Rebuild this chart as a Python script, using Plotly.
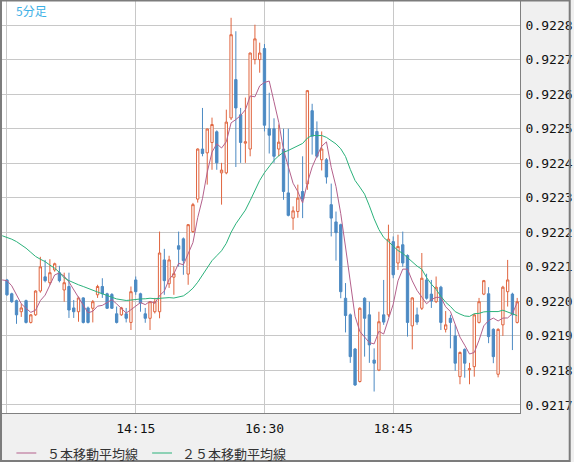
import plotly.graph_objects as go

# ---- data (USD/CHF-like 5-minute bars) ----
open_ = [0.922062, 0.922022, 0.922002, 0.921970, 0.922002, 0.921939, 0.921961, 0.922030, 0.922071, 0.922054,
         0.922091, 0.922083, 0.922033, 0.922043, 0.921981, 0.921970, 0.922010, 0.921981, 0.921980, 0.922019,
         0.922043, 0.922022, 0.922020, 0.921964, 0.921961, 0.921964, 0.921939, 0.922062, 0.922022, 0.921964,
         0.921951, 0.921970, 0.921970, 0.922120, 0.922051, 0.922070, 0.922161, 0.922181, 0.922079, 0.922202,
         0.922296, 0.922441, 0.922430, 0.922460, 0.922491, 0.922372, 0.922372, 0.922531, 0.922642, 0.922540,
         0.922458, 0.922441, 0.922700, 0.922700, 0.922732, 0.922500, 0.922500, 0.922441, 0.922441, 0.922314,
         0.922241, 0.922260, 0.922318, 0.922340, 0.922552, 0.922492, 0.922410, 0.922410, 0.922280, 0.922230,
         0.922222, 0.922009, 0.921961, 0.921862, 0.921768, 0.922009, 0.921961, 0.921830, 0.921801, 0.921961,
         0.921961, 0.922173, 0.922111, 0.922164, 0.922133, 0.921929, 0.921961, 0.921980, 0.922062, 0.922021,
         0.921999, 0.922041, 0.921919, 0.921951, 0.921900, 0.921782, 0.921861, 0.921802, 0.921811, 0.921939,
         0.922021, 0.922022, 0.921919, 0.921789, 0.921932, 0.922028, 0.922021, 0.921939]
high = [0.922065, 0.922025, 0.922005, 0.921993, 0.922005, 0.921963, 0.922032, 0.922129, 0.922120, 0.922122,
        0.922112, 0.922103, 0.922083, 0.922083, 0.922004, 0.922014, 0.922012, 0.921985, 0.922004, 0.922048,
        0.922067, 0.922025, 0.922024, 0.921985, 0.921984, 0.921981, 0.922043, 0.922072, 0.922025, 0.921981,
        0.922000, 0.922010, 0.922202, 0.922152, 0.922132, 0.922101, 0.922202, 0.922185, 0.922224, 0.922285,
        0.922443, 0.922560, 0.922500, 0.922532, 0.922495, 0.922401, 0.922555, 0.922821, 0.922782, 0.922560,
        0.922590, 0.922720, 0.922801, 0.922749, 0.922745, 0.922604, 0.922530, 0.922512, 0.922500, 0.922500,
        0.922275, 0.922338, 0.922420, 0.922612, 0.922572, 0.922521, 0.922492, 0.922415, 0.922341, 0.922260,
        0.922225, 0.922053, 0.921965, 0.921865, 0.921983, 0.922012, 0.921999, 0.921864, 0.921970, 0.922062,
        0.922222, 0.922188, 0.922193, 0.922202, 0.922136, 0.922012, 0.921982, 0.922140, 0.922080, 0.922062,
        0.922072, 0.922045, 0.921972, 0.921961, 0.921932, 0.921855, 0.921864, 0.921822, 0.921964, 0.922010,
        0.922062, 0.922041, 0.921922, 0.921922, 0.922045, 0.922120, 0.922025, 0.922010]
low = [0.922016, 0.921996, 0.921935, 0.921955, 0.921936, 0.921936, 0.921958, 0.922025, 0.922055, 0.922048,
       0.922086, 0.922055, 0.921999, 0.921952, 0.921952, 0.921941, 0.921936, 0.921936, 0.921939, 0.922010,
       0.922010, 0.921978, 0.921978, 0.921936, 0.921958, 0.921939, 0.921917, 0.922019, 0.921970, 0.921938,
       0.921917, 0.921965, 0.921951, 0.922019, 0.922039, 0.922019, 0.922101, 0.922077, 0.922048, 0.922198,
       0.922286, 0.922420, 0.922338, 0.922381, 0.922381, 0.922280, 0.922368, 0.922525, 0.922389, 0.922401,
       0.922401, 0.922420, 0.922686, 0.922662, 0.922492, 0.922428, 0.922401, 0.922420, 0.922294, 0.922246,
       0.922207, 0.922242, 0.922241, 0.922323, 0.922425, 0.922415, 0.922379, 0.922341, 0.922188, 0.922118,
       0.922009, 0.921910, 0.921822, 0.921755, 0.921765, 0.921840, 0.921822, 0.921739, 0.921798, 0.921932,
       0.921955, 0.922067, 0.922091, 0.922100, 0.921898, 0.921861, 0.921932, 0.921975, 0.922005, 0.921981,
       0.921995, 0.921917, 0.921910, 0.921864, 0.921799, 0.921760, 0.921779, 0.921760, 0.921782, 0.921936,
       0.922018, 0.921879, 0.921821, 0.921780, 0.921900, 0.921985, 0.921859, 0.921936]
close = [0.922019, 0.921999, 0.921961, 0.921981, 0.921939, 0.921961, 0.922030, 0.922100, 0.922060, 0.922083,
         0.922109, 0.922060, 0.922054, 0.921975, 0.921970, 0.922010, 0.921939, 0.921939, 0.921999, 0.922043,
         0.922022, 0.921980, 0.921980, 0.921939, 0.921981, 0.921951, 0.922028, 0.922028, 0.921995, 0.921951,
         0.921999, 0.921999, 0.922140, 0.922060, 0.922120, 0.922080, 0.922151, 0.922118, 0.922222, 0.922280,
         0.922441, 0.922428, 0.922499, 0.922512, 0.922401, 0.922380, 0.922519, 0.922772, 0.922560, 0.922460,
         0.922462, 0.922719, 0.922760, 0.922719, 0.922510, 0.922481, 0.922420, 0.922461, 0.922318, 0.922249,
         0.922262, 0.922299, 0.922296, 0.922610, 0.922478, 0.922420, 0.922441, 0.922360, 0.922241, 0.922199,
         0.922028, 0.921959, 0.921840, 0.921758, 0.921980, 0.921951, 0.921874, 0.921821, 0.921941, 0.921940,
         0.922180, 0.922077, 0.922159, 0.922111, 0.921939, 0.922010, 0.921940, 0.922067, 0.922009, 0.922001,
         0.922041, 0.921939, 0.921932, 0.921939, 0.921821, 0.921852, 0.921821, 0.921805, 0.921961, 0.921999,
         0.922060, 0.921898, 0.921840, 0.921919, 0.922041, 0.922062, 0.921961, 0.921999]

# moving-average values read off the chart where the averaging window reaches
# back before the first visible bar (bars -1 .. 3 and -1 .. 23)
ma5_lead = [0.922062, 0.922060, 0.922045, 0.922020, 0.921993]
ma25_lead = [0.922190, 0.922186, 0.922180, 0.922173, 0.922164, 0.922154, 0.922142, 0.922130, 0.922122,
             0.922115, 0.922105, 0.922096, 0.922084, 0.922068, 0.922060, 0.922053, 0.922048, 0.922043,
             0.922037, 0.922031, 0.922027, 0.922022, 0.922018, 0.922012, 0.922007]

x_tick_labels = ["", "14:15", "16:30", "18:45"]
x_tick_bars = [0, 27, 54, 81]
title_label = "5分足"
legend_labels = ["５本移動平均線", "２５本移動平均線"]

# ---- derived series ----
n = len(close)
bars = list(range(n))


def moving_average(lead, period):
    out = list(lead)
    for k in range(period - 1, n):
        out.append(sum(close[k - period + 1:k + 1]) / period)
    return out


ma5 = moving_average(ma5_lead, 5)
ma25 = moving_average(ma25_lead, 25)
ma_x = [-1] + bars

UP = "#e0653f"
DOWN = "#4c8ac3"
MA5_C = "#b4618c"
MA25_C = "#2bb27b"

fig = go.Figure()
fig.add_trace(go.Candlestick(
    x=bars, open=open_, high=high, low=low, close=close,
    increasing=dict(line=dict(color=UP, width=1), fillcolor="#ffffff"),
    decreasing=dict(line=dict(color=DOWN, width=1), fillcolor=DOWN),
    whiskerwidth=0, showlegend=False, name="5分足"))
fig.add_trace(go.Scatter(x=ma_x, y=ma5, mode="lines", line=dict(color=MA5_C, width=1),
                         name=legend_labels[0], showlegend=False))
fig.add_trace(go.Scatter(x=ma_x, y=ma25, mode="lines", line=dict(color=MA25_C, width=1),
                         name=legend_labels[1], showlegend=False))

W, H = 574, 462
L, R, T, B = 2, 51, 1, 49
PW, PH = W - L - R, H - T - B


def px(xp):
    return (xp - L) / PW


def py(yp):
    return (H - B - yp) / PH


mono = "DejaVu Sans Mono"
cjk = "Noto Sans CJK JP"

shapes = [
    dict(type="rect", xref="paper", yref="paper", x0=px(1), x1=px(573), y0=py(0.5), y1=py(461),
         line=dict(color="#7c7c7c", width=2), layer="above"),
    dict(type="line", xref="paper", yref="paper", x0=px(16.5), x1=px(36.5), y0=py(453), y1=py(453),
         line=dict(color=MA5_C, width=1)),
    dict(type="line", xref="paper", yref="paper", x0=px(153), x1=px(173), y0=py(453), y1=py(453),
         line=dict(color=MA25_C, width=1)),
]
annotations = [
    dict(text=title_label, xref="paper", yref="paper", x=px(14), y=py(11), xanchor="left",
         yanchor="middle", showarrow=False, font=dict(family=cjk, size=12, color="#3cb0e6")),
    dict(text=legend_labels[0], xref="paper", yref="paper", x=px(45), y=py(453), xanchor="left",
         yanchor="middle", showarrow=False, font=dict(family=cjk, size=13, color="#333333")),
    dict(text=legend_labels[1], xref="paper", yref="paper", x=px(181), y=py(453), xanchor="left",
         yanchor="middle", showarrow=False, font=dict(family=cjk, size=13, color="#333333")),
]

fig.update_layout(
    width=W, height=H, margin=dict(l=L, r=R, t=T, b=B),
    paper_bgcolor="#f0f0f0", plot_bgcolor="#ffffff",
    showlegend=False, shapes=shapes, annotations=annotations,
    xaxis=dict(range=[-1.0425, 107.59], rangeslider=dict(visible=False),
               tickmode="array", tickvals=x_tick_bars, ticktext=x_tick_labels,
               showgrid=True, gridcolor="#c8c8c8", gridwidth=1, zeroline=False,
               showline=True, linecolor="#808080", linewidth=1, ticks="",
               ticklabelstandoff=3,
               tickfont=dict(family=mono, size=13, color="#111111")),
    yaxis=dict(side="right", range=[0.9216768, 0.9228696], dtick=0.0001, tick0=0.9217,
               tickformat=".4f", showgrid=True, gridcolor="#c8c8c8", gridwidth=1, zeroline=False,
               showline=True, linecolor="#808080", linewidth=1, ticks="",
               ticklabelstandoff=2,
               tickfont=dict(family=mono, size=13, color="#111111")),
)

fig.write_html("out.html")
